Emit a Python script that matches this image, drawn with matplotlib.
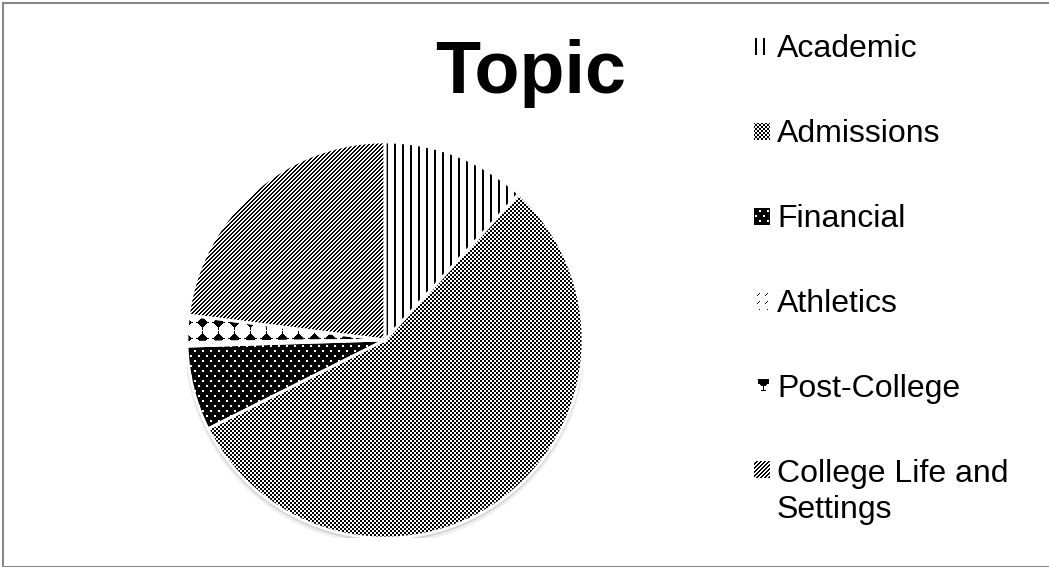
import matplotlib
matplotlib.use("Agg")
import matplotlib.pyplot as plt
import numpy as np
from matplotlib.patches import Circle, Rectangle

# ---- data (shares, in %) ----
topics = ["Academic", "Admissions", "Financial", "Athletics",
          "Post-College", "College Life and Settings"]
shares = [11.8, 55.8, 6.9, 0.3, 2.2, 23.0]
legend_labels = ["Academic", "Admissions", "Financial", "Athletics",
                 "Post-College", "College Life and\nSettings"]
patterns = ["vlines", "checker", "dots", "dashes", "diamonds", "diag"]
title = "Topic"

W, H = 1049, 567
plt.rcParams["font.family"] = ["Liberation Sans", "DejaVu Sans"]

yy, xx = np.mgrid[0:H, 0:W]


def texture(name, ox=0, oy=0, key=False):
    """Black/white fill pattern in screen pixels (True = black)."""
    x, y = xx - ox, yy - oy
    if name == "vlines":
        return (x % 8) < 2
    if name == "checker":
        return ((x // 2 + y // 2) % 2) == 0
    if name == "dots":
        tx, ty = x % 8, y % 10
        white = (((tx < 2) & (ty < 2))
                 | ((tx >= 4) & (tx < 6) & (ty >= 5) & (ty < 7)))
        return ~white
    if name == "dashes":
        tx, ty = x % 8, y % 8
        return (tx + ty == 7) & (tx >= 2) & (tx <= 4)
    if name == "diamonds":
        tx, ty = x % 16 - 8, y % 16 - 8
        if key:
            # small trophy-like glyph used by the legend key
            return (((np.abs(tx) + np.abs(ty) <= 4) & (ty <= 2))
                    | ((np.abs(tx) <= 5) & (ty >= -4) & (ty <= 0))
                    | ((tx == 0) & (ty >= 0) & (ty <= 6))
                    | ((np.abs(tx) <= 2) & (ty == 7)))
        return ((np.abs(tx) + np.abs(ty) <= 5)
                | ((tx == 0) & (np.abs(ty) <= 7))
                | ((ty == 0) & (np.abs(tx) <= 6)))
    if name == "diag":
        return ((x + y) % 4) < 2
    return np.zeros((H, W), bool)


def to_rgb(mask):
    img = np.where(mask, 0, 255).astype(np.uint8)
    return np.repeat(img[:, :, None], 3, axis=2)


def fx(px):
    return px / W


def fy(py):
    return 1 - py / H


fig = plt.figure(figsize=(W / 100, H / 100), dpi=100)

# pie axes: centre (385, 340), radius 198 px
cx, cy, r = 385, 340, 198
rect = [fx(cx - r), fy(cy + r), 2 * r / W, 2 * r / H]
ax = fig.add_axes(rect)
ax.axis("off")

# soft shadow under the pie
for i, (dy, a) in enumerate([(-0.012, 0.25), (-0.02, 0.12)]):
    ax.add_patch(Circle((0.0, dy), 1.0 + 0.006 * (i + 1), facecolor="#888888",
                        edgecolor="none", alpha=a, zorder=0))

wedges, _ = ax.pie(shares, startangle=90, counterclock=False, radius=1,
                   colors=["white"] * len(shares),
                   wedgeprops=dict(edgecolor="none"))
ax.set_xlim(-1, 1)
ax.set_ylim(-1, 1)
ax.set_aspect("equal")

for w, pat in zip(wedges, patterns):
    im = fig.figimage(to_rgb(texture(pat, ox=2, oy=10)), 0, 0,
                      origin="upper", zorder=0.5)
    im.set_clip_path(w)

# white separators on top
ax2 = fig.add_axes(rect, zorder=1)
ax2.axis("off")
ax2.pie(shares, startangle=90, counterclock=False, radius=1,
        colors=["none"] * len(shares),
        wedgeprops=dict(edgecolor="white", linewidth=2))
ax2.set_xlim(-1, 1)
ax2.set_ylim(-1, 1)
ax2.set_aspect("equal")

# title
fig.text(fx(531), fy(93), title, ha="center", va="baseline",
         fontsize=53, fontweight="bold")

# legend (multi-line labels are anchored on their last baseline)
baselines = [57, 142, 227, 312, 397, 518]
for lab, pat, base in zip(legend_labels, patterns, baselines):
    key_base = base - 38 * lab.count("\n")
    key = Rectangle((fx(754), fy(key_base - 3)), 15 / W, 16 / H,
                    transform=fig.transFigure, facecolor="none",
                    edgecolor="none")
    im = fig.figimage(to_rgb(texture(pat, ox=755, oy=key_base - 22, key=True)),
                      0, 0, origin="upper", zorder=0.5)
    im.set_clip_path(key)
    fig.text(fx(777), fy(base), lab, ha="left", va="baseline",
             fontsize=23, linespacing=1.27)

# chart frame (right edge falls just outside the canvas)
fig.add_artist(Rectangle((fx(3), fy(H - 0.5)), (W + 5) / W, (H - 3.5) / H,
                         transform=fig.transFigure, fill=False,
                         edgecolor="#878787", linewidth=1.5))

fig.savefig("out.png", dpi=100)
